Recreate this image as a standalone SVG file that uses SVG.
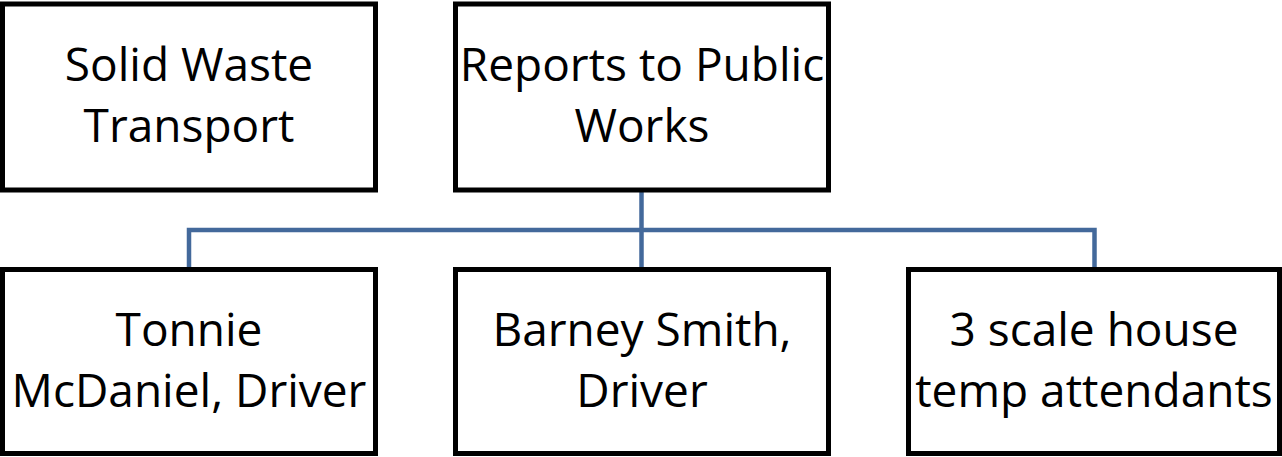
<svg xmlns="http://www.w3.org/2000/svg" width="1282" height="457" viewBox="0 0 1282 457">
<style>
.box{fill:#fff;stroke:#000;stroke-width:5}
.lbl{font-family:"Open Sans","Liberation Sans",sans-serif;font-size:46px;fill:#000;text-anchor:middle}
.conn{fill:none;stroke:#43699B;stroke-width:4.5}
</style>
<rect width="1282" height="457" fill="#fff"/>
<g id="connectors">
<path class="conn" d="M641.5,190 V269.5"/>
<path class="conn" d="M189,269.5 V230 H1094.5 V269.5"/>
</g>
<g id="node-solid-waste">
<rect class="box" x="2.5" y="4" width="373" height="186"/>
<text class="lbl" x="189" y="81">Solid Waste</text>
<text class="lbl" x="189" y="142">Transport</text>
</g>
<g id="node-public-works">
<rect class="box" x="455.5" y="4" width="373" height="186"/>
<text class="lbl" x="642" y="81">Reports to Public</text>
<text class="lbl" x="642" y="142">Works</text>
</g>
<g id="node-tonnie">
<rect class="box" x="2.5" y="269.5" width="373" height="184"/>
<text class="lbl" x="189" y="346">Tonnie</text>
<text class="lbl" x="189" y="407">McDaniel, Driver</text>
</g>
<g id="node-barney">
<rect class="box" x="455.5" y="269.5" width="373" height="184"/>
<text class="lbl" x="642" y="346">Barney Smith,</text>
<text class="lbl" x="642" y="407">Driver</text>
</g>
<g id="node-attendants">
<rect class="box" x="908.5" y="269.5" width="371" height="184"/>
<text class="lbl" x="1094" y="346">3 scale house</text>
<text class="lbl" x="1094" y="407">temp attendants</text>
</g>
</svg>
